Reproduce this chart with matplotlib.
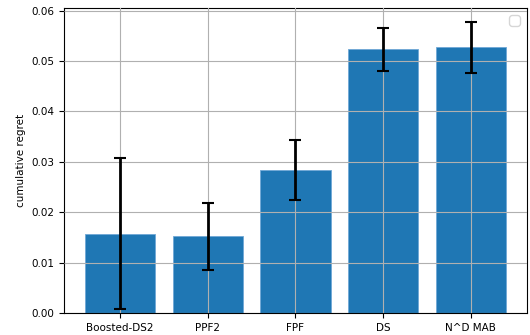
import matplotlib
matplotlib.use('Agg')
import matplotlib.pyplot as plt
import numpy as np

# algorithms and their mean cumulative regret with error
algos = ['Boosted-DS2', 'PPF2', 'FPF', 'DS', 'N^D MAB']
regret = [0.0157, 0.0152, 0.0284, 0.0523, 0.0527]
err = [0.0150, 0.0067, 0.0059, 0.0043, 0.0050]

fig = plt.figure(figsize=(5.3, 3.35), dpi=100)
ax = fig.add_axes([0.121, 0.066, 0.873, 0.910])

x = np.arange(len(algos))
ax.bar(x, regret, yerr=err, color='#1f77b4', edgecolor='#6fa8d6', linewidth=0.6,
       error_kw=dict(ecolor='black', elinewidth=2, capsize=4, capthick=1.5, zorder=3))
ax.set_xticks(x)
ax.set_xticklabels(algos, fontsize=7.5)
ax.tick_params(axis='y', labelsize=7.5)
ax.set_ylabel('cumulative regret', fontsize=7.5)
ax.set_ylim(0, 0.0605)
ax.set_axisbelow(False)
ax.grid(True)

ax.legend(handles=[], loc='upper right')

plt.savefig('out.png')
